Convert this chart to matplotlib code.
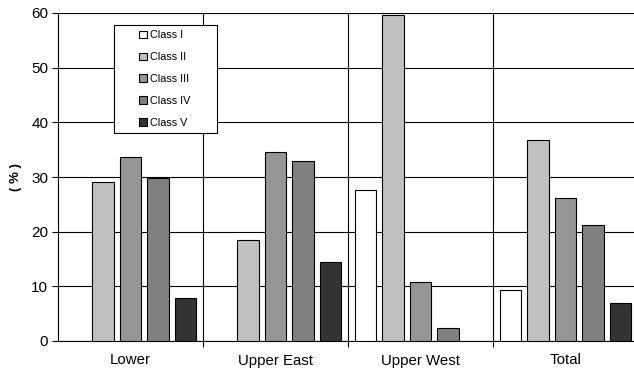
import numpy as np
import matplotlib
matplotlib.use('Agg')
import matplotlib.pyplot as plt
from matplotlib.patches import Rectangle

plt.rcParams.update({
    'font.family': ['Liberation Sans', 'DejaVu Sans'],
    'font.size': 9,
})

# ── data ──────────────────────────────────────────────────────────────────────
regions = ['Lower', 'Upper East', 'Upper West', 'Total']
classes = ['Class I', 'Class II', 'Class III', 'Class IV', 'Class V']
class_i   = [0.0, 0.0, 27.7, 9.4]
class_ii  = [29.1, 18.5, 59.6, 36.7]
class_iii = [33.6, 34.6, 10.8, 26.1]
class_iv  = [29.8, 32.9, 2.4, 21.3]
class_v   = [7.9, 14.5, 0.0, 7.0]
series = [class_i, class_ii, class_iii, class_iv, class_v]
colors = ['#ffffff', '#c0c0c0', '#969696', '#808080', '#333333']

# ── figure ────────────────────────────────────────────────────────────────────
W, H = 634, 373
fig = plt.figure(figsize=(W / 100, H / 100), dpi=100)
ax = fig.add_axes([58 / W, 1 - 341 / H, 580 / W, 328 / H])

x = np.arange(len(regions))
step, width = 0.19, 0.148
for k, (vals, c) in enumerate(zip(series, colors)):
    pos = x + (k - 2) * step
    v = np.array(vals)
    m = v > 0
    ax.bar(pos[m], v[m], width=width, color=c, edgecolor='black', lw=0.8,
           label=classes[k], zorder=3)

ax.set_xlim(-0.5, 3.5)
ax.set_ylim(0, 60)
ax.set_yticks(range(0, 61, 10))
ax.yaxis.grid(True, color='black', lw=0.8, zorder=0)
for b in [0.5, 1.5, 2.5]:
    ax.axvline(b, color='black', lw=0.8, zorder=1)

ax.set_xticks(x)
ax.set_xticklabels(regions, fontsize=10.8)
ax.tick_params(axis='x', which='major', length=0, pad=9)
ax.set_xticks([0.5, 1.5, 2.5], minor=True)
ax.tick_params(axis='x', which='minor', length=4, direction='out', width=0.8)
ax.tick_params(axis='y', length=4, direction='out', width=0.8, labelsize=11,
               pad=3)
for s in ['top', 'right']:
    ax.spines[s].set_visible(False)
for s in ['left', 'bottom']:
    ax.spines[s].set_linewidth(0.8)
ax.set_ylabel('( % )', fontweight='bold', fontsize=9.5, labelpad=7)

# legend in its own frame
fig.patches.append(Rectangle((114 / W, 1 - 133 / H), 103 / W, 108 / H,
                             transform=fig.transFigure, facecolor='white',
                             edgecolor='black', lw=0.8, zorder=5))
leg = fig.legend(loc='center', bbox_to_anchor=(165 / W, 1 - 79 / H),
                 frameon=False, fontsize=7.8, handlelength=0.7,
                 handleheight=0.7, handletextpad=0.3, labelspacing=1.1)
leg.set_zorder(6)

fig.savefig('out.png', dpi=100, facecolor='white')
